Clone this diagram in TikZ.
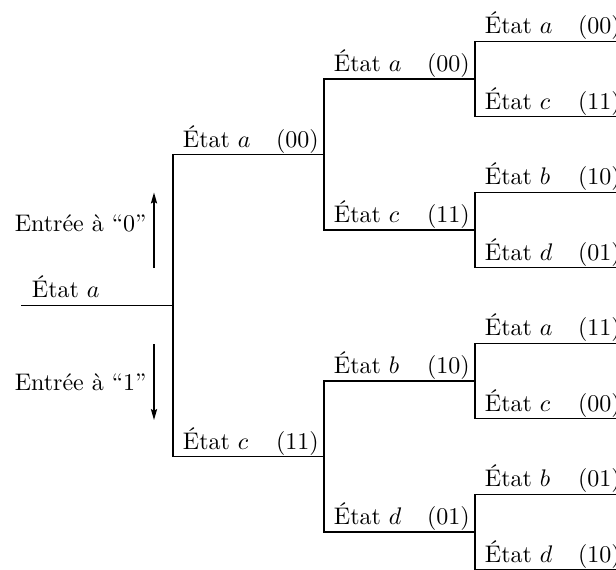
\documentclass[tikz,border=0pt]{standalone}
\usetikzlibrary{arrows.meta}
\begin{document}
\begin{tikzpicture}[x=0.41667pt,y=-0.41667pt,
  branch/.style={line width=0.6pt, line join=miter},
  lab/.style={anchor=base west, inner sep=0pt},
  inp/.style={anchor=base east, inner sep=0pt},
  arr/.style={line width=0.6pt, -{Stealth[length=4.6pt,width=2.6pt,inset=0.8pt]}}]
\useasboundingbox (0,0) rectangle (616,569);
\clip (0,0) rectangle (616,569);
\newcommand{\etq}[2]{\makebox[38.8pt][l]{\'Etat $#1$}(#2)}
% level 0
\coordinate (r0) at (21,305.5);
\coordinate (r1) at (173,305.5);
% level 1
\coordinate (a1) at (173,154.5); \coordinate (a1e) at (324,154.5);
\coordinate (c1) at (173,456.5); \coordinate (c1e) at (324,456.5);
% level 2
\coordinate (a2) at (324,79);    \coordinate (a2e) at (475,79);
\coordinate (c2) at (324,230);   \coordinate (c2e) at (475,230);
\coordinate (b2) at (324,381);   \coordinate (b2e) at (475,381);
\coordinate (d2) at (324,532);   \coordinate (d2e) at (475,532);
% level 3
\coordinate (p1) at (475,41.25);  \coordinate (p1e) at (626,41.25);
\coordinate (p2) at (475,116.75); \coordinate (p2e) at (626,116.75);
\coordinate (p3) at (475,192.25); \coordinate (p3e) at (626,192.25);
\coordinate (p4) at (475,267.75); \coordinate (p4e) at (626,267.75);
\coordinate (p5) at (475,343.25); \coordinate (p5e) at (626,343.25);
\coordinate (p6) at (475,418.75); \coordinate (p6e) at (626,418.75);
\coordinate (p7) at (475,494.25); \coordinate (p7e) at (626,494.25);
\coordinate (p8) at (475,569.75); \coordinate (p8e) at (626,569.75);

\draw[branch] (r0) -- (r1);
\draw[branch] (a1e) -- (a1) -- (c1) -- (c1e);
\draw[branch] (a2e) -- (a2) -- (c2) -- (c2e);
\draw[branch] (b2e) -- (b2) -- (d2) -- (d2e);
\draw[branch] (p1e) -- (p1) -- (p2) -- (p2e);
\draw[branch] (p3e) -- (p3) -- (p4) -- (p4e);
\draw[branch] (p5e) -- (p5) -- (p6) -- (p6e);
\draw[branch] (p7e) -- (p7) -- (p8) -- (p8e);

% labels
\node[lab] (lr) at ([shift={(10.5,-8.5)}]r0) {\'Etat $a$};
\node[lab] (la1) at ([shift={(9.5,-7.5)}]a1) {\etq{a}{00}};
\node[lab] (lc1) at ([shift={(9.5,-7.5)}]c1) {\etq{c}{11}};
\node[lab] (la2) at ([shift={(9.5,-7.5)}]a2) {\etq{a}{00}};
\node[lab] (lc2) at ([shift={(9.5,-7.5)}]c2) {\etq{c}{11}};
\node[lab] (lb2) at ([shift={(9.5,-7.5)}]b2) {\etq{b}{10}};
\node[lab] (ld2) at ([shift={(9.5,-7.5)}]d2) {\etq{d}{01}};
\node[lab] (l1) at ([shift={(9.5,-7.5)}]p1) {\etq{a}{00}};
\node[lab] (l2) at ([shift={(9.5,-7.5)}]p2) {\etq{c}{11}};
\node[lab] (l3) at ([shift={(9.5,-7.5)}]p3) {\etq{b}{10}};
\node[lab] (l4) at ([shift={(9.5,-7.5)}]p4) {\etq{d}{01}};
\node[lab] (l5) at ([shift={(9.5,-7.5)}]p5) {\etq{a}{11}};
\node[lab] (l6) at ([shift={(9.5,-7.5)}]p6) {\etq{c}{00}};
\node[lab] (l7) at ([shift={(9.5,-7.5)}]p7) {\etq{b}{01}};
\node[lab] (l8) at ([shift={(9.5,-7.5)}]p8) {\etq{d}{10}};

% input arrows
\coordinate (u0) at (154,268);   \coordinate (u1) at (154,192.5);
\coordinate (v0) at (154,344);   \coordinate (v1) at (154,420);
\draw[arr] (u0) -- (u1);
\draw[arr] (v0) -- (v1);
\node[inp] (e0) at (147,231.7) {Entrée à “0”};
\node[inp] (e1) at (147,390) {Entrée à “1”};
\end{tikzpicture}
\end{document}
